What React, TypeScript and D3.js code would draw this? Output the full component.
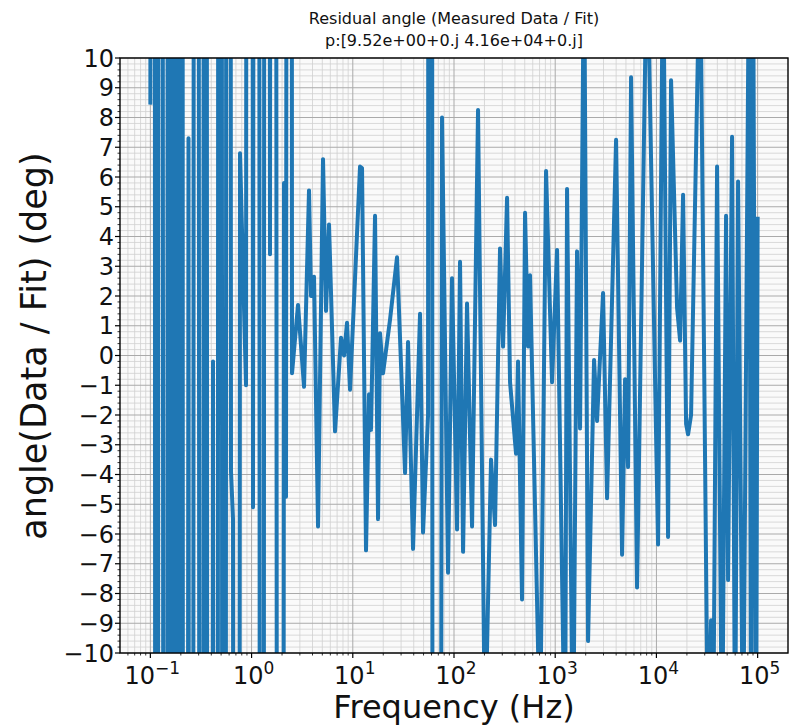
import React from "react";
import * as d3 from "d3";

// Frequency (Hz) and residual angle (deg).
// Values beyond ±10 are excursions that leave the visible range.
const freqHz = [
  0.1, 0.1074, 0.115, 0.1245, 0.1427, 0.1528, 0.1618, 0.1752, 0.1875, 0.2031,
  0.215, 0.2381, 0.2521, 0.2825, 0.3238, 0.3466, 0.3797, 0.4159, 0.4452, 0.4876,
  0.5341, 0.5851, 0.6263, 0.6555, 0.702, 0.7687, 0.8813, 0.9541, 1.033, 1.132,
  1.268, 1.389, 1.521, 1.629, 1.91, 2.092, 2.189, 2.398, 2.509, 2.876,
  3.298, 3.694, 3.868, 4.14, 4.535, 5.08, 5.44, 5.824, 6.676, 7.652,
  8.196, 8.771, 9.391, 11.79, 12.34, 13.51, 14.47, 15.14, 16.59, 17.76,
  18.59, 19.9, 23.33, 27.36, 32.84, 35.15, 39.38, 46.17, 49.44, 55.41,
  58.65, 63.51, 76.17, 87.33, 95.63, 107.2, 114.7, 122.9, 134.5, 150.8,
  172.8, 202.6, 232.3, 254.4, 285, 305.3, 334.4, 357.9, 410.2, 429.3,
  470.2, 503.5, 539, 564.1, 708.5, 811.9, 930.5, 1043, 1251, 1309,
  1501, 1643, 1760, 1928, 2111, 2420, 2591, 2970, 3253, 3993,
  4577, 4900, 5247, 5616, 6436, 8079, 10380, 11630, 13030, 13950,
  16000, 17130, 18340, 19640, 20540, 21990, 26990, 32380, 34670, 36290,
  39740, 44530, 48760, 51040, 55890, 59860, 64080, 71810, 82300, 86140,
  90140, 96520, 100000,
];
const angleDeg = [
  8.5, 180, -180, 180, -180, 180, -180, 180, -180, 180,
  -180, 7.3, -180, 180, -180, 180, -180, -0.2, -180, 180,
  -180, 180, -3.9, -5.5, -180, 6.8, -1.0, 180, -5.1, 180,
  -180, 180, 3.4, 180, -180, 5.8, -4.75, 180, -0.6, 1.7,
  -1.05, 5.55, 2.0, 2.65, -5.75, 6.6, 1.5, 4.4, -2.55, 0.6,
  0.0, 1.1, -1.15, 6.35, 6.3, -6.55, -1.3, -2.5, 4.7, -5.5,
  0.75, -0.6, 1.2, 3.3, -3.95, 0.45, -6.5, 1.4, -5.95, -2.0,
  180, -180, 8.0, -7.3, 2.6, -5.85, 3.15, -6.6, 1.75, -5.75,
  8.25, -13, -3.5, -5.7, 3.6, 0.3, 5.3, -0.9, -3.3, -0.2,
  -8.2, 4.8, 0.3, 2.7, -13, 6.2, -0.9, 3.55, -14, 5.6,
  -14, 3.5, -2.45, 14, -9.6, -0.15, -2.2, 2.1, -4.8, 7.25,
  -6.7, -0.8, -3.75, 9.35, -7.8, 14, -6.35, 14, -6.1, 9.25,
  1.6, 0.5, 5.4, -2.3, -2.65, -2.0, 14, -14, -8.9, -14,
  6.35, -14, 4.7, -7.55, 7.35, -14, 5.85, -14, 14, -14,
  14, -14, 4.6,
];

const xTickExponents = [-1, 0, 1, 2, 3, 4, 5];
const yTickValues = [-10, -9, -8, -7, -6, -5, -4, -3, -2, -1, 0, 1, 2, 3, 4, 5, 6, 7, 8, 9, 10];
const titleLines = ["Residual angle (Measured Data / Fit)", "p:[9.52e+00+0.j 4.16e+04+0.j]"];
const xLabel = "Frequency (Hz)";
const yLabel = "angle(Data / Fit) (deg)";

const W = 792;
const H = 727;
const L = 120;
const R = 788;
const T = 58;
const B = 653;
const FONT = "'DejaVu Sans', sans-serif";

export default function App() {
  const x = d3.scaleLog().domain([Math.pow(10, -1.3), Math.pow(10, 5.3)]).range([L, R]);
  const y = d3.scaleLinear().domain([-10, 10]).range([B, T]);
  const pts: [number, number][] = freqHz.map((f, i) => [f, angleDeg[i]]);
  const line = d3
    .line<[number, number]>()
    .x((d) => x(d[0]))
    .y((d) => y(d[1]));

  const [d0, d1] = x.domain();
  const xMinor: number[] = [];
  for (let e = -2; e <= 5; e++) {
    for (let k = 2; k <= 9; k++) {
      const v = k * Math.pow(10, e);
      if (v >= d0 && v <= d1) xMinor.push(v);
    }
  }
  const xMajor = xTickExponents.map((e) => Math.pow(10, e));
  const yMinor = d3.range(0, 101).map((i) => -10 + i * 0.2).filter((v) => Math.abs(v - Math.round(v)) > 1e-6);

  return (
    <svg width={W} height={H} style={{ position: "absolute", left: 0, top: 0, background: "#fff" }} fontFamily={FONT}>
      <defs>
        <clipPath id="plotclip">
          <rect x={L} y={T} width={R - L} height={B - T} />
        </clipPath>
      </defs>
      <rect x={0} y={0} width={W} height={H} fill="#fff" />
      <rect x={L} y={T} width={R - L} height={B - T} fill="#fafafa" />
      {/* minor grid */}
      <g stroke="#d0d0d0" strokeWidth={0.8}>
        {xMinor.map((v, i) => (
          <line key={"xm" + i} x1={x(v)} x2={x(v)} y1={T} y2={B} />
        ))}
        {yMinor.map((v, i) => (
          <line key={"ym" + i} x1={L} x2={R} y1={y(v)} y2={y(v)} />
        ))}
      </g>
      {/* major grid */}
      <g stroke="#aaaaaa" strokeWidth={1}>
        {xMajor.map((v, i) => (
          <line key={"xM" + i} x1={x(v)} x2={x(v)} y1={T} y2={B} />
        ))}
        {yTickValues.map((v, i) => (
          <line key={"yM" + i} x1={L} x2={R} y1={y(v)} y2={y(v)} />
        ))}
      </g>
      <path
        d={line(pts) || ""}
        fill="none"
        stroke="#1f77b4"
        strokeWidth={4}
        strokeLinejoin="round"
        strokeLinecap="square"
        clipPath="url(#plotclip)"
      />
      {/* spines */}
      <rect x={L} y={T} width={R - L} height={B - T} fill="none" stroke="#000" strokeWidth={1.4} />
      {/* ticks */}
      <g stroke="#000">
        {yTickValues.map((v, i) => (
          <line key={"yt" + i} x1={L - 5} x2={L} y1={y(v)} y2={y(v)} strokeWidth={1.2} />
        ))}
        {yMinor.map((v, i) => (
          <line key={"ymt" + i} x1={L - 2.5} x2={L} y1={y(v)} y2={y(v)} strokeWidth={0.8} />
        ))}
        {xMajor.map((v, i) => (
          <line key={"xt" + i} x1={x(v)} x2={x(v)} y1={B} y2={B + 5} strokeWidth={1.2} />
        ))}
        {xMinor.map((v, i) => (
          <line key={"xmt" + i} x1={x(v)} x2={x(v)} y1={B} y2={B + 2.5} strokeWidth={0.8} />
        ))}
      </g>
      {/* y tick labels */}
      <g fontSize={24} fill="#111" textAnchor="end">
        {yTickValues.map((v, i) => (
          <text key={"yl" + i} x={L - 6} y={y(v) + 8.5}>
            {v < 0 ? "\u2212" + Math.abs(v) : String(v)}
          </text>
        ))}
      </g>
      {/* x tick labels */}
      <g fill="#111" textAnchor="middle">
        {xTickExponents.map((e, i) => (
          <text key={"xl" + i} x={x(Math.pow(10, e)) + 2} y={684} fontSize={24}>
            <tspan>10</tspan>
            <tspan dy={-10} fontSize={17}>
              {e < 0 ? "\u2212" + Math.abs(e) : String(e)}
            </tspan>
          </text>
        ))}
      </g>
      {/* axis labels */}
      <text x={(L + R) / 2} y={718} fontSize={32} textAnchor="middle" fill="#111">
        {xLabel}
      </text>
      <text
        transform={`translate(46, 346) rotate(-90)`}
        fontSize={35}
        textAnchor="middle"
        fill="#111"
      >
        {yLabel}
      </text>
      {/* title */}
      <g fontSize={16} fill="#111" textAnchor="middle">
        <text x={(L + R) / 2} y={24}>
          {titleLines[0]}
        </text>
        <text x={(L + R) / 2} y={46}>
          {titleLines[1]}
        </text>
      </g>
    </svg>
  );
}
